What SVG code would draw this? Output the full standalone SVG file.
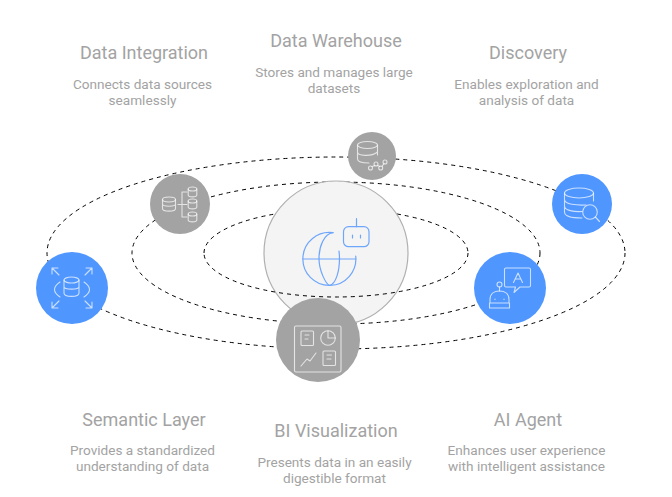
<svg xmlns="http://www.w3.org/2000/svg" width="672" height="497" viewBox="0 0 672 497">
<style>
.t{font-family:"Roboto","Liberation Sans",sans-serif;font-size:18px;fill:#a3a3a3;text-anchor:middle}
.d{font-family:"Roboto","Liberation Sans",sans-serif;font-size:13.6px;fill:#a3a3a3;text-anchor:middle}
.orb{fill:none;stroke:#000;stroke-width:1;stroke-dasharray:4 4}
.g{fill:#a3a3a3}
.b{fill:#4f96ff}
.i{fill:none;stroke:#fff;stroke-opacity:.7;stroke-width:1.1;stroke-linecap:round;stroke-linejoin:round}
.u{fill:none;stroke:#6ea6fb;stroke-width:1.2;stroke-linecap:round;stroke-linejoin:round}
</style>
<rect width="672" height="497" fill="#fff"/>
<g id="connectors">
<ellipse class="orb" cx="336" cy="253" rx="289" ry="96"/>
<ellipse class="orb" cx="336" cy="253" rx="204" ry="71"/>
<path class="orb" d="M204 253A132 44 0 0 1 468 253"/>
</g>
<g id="center">
<circle cx="336" cy="253" r="72" fill="#f4f4f4" stroke="#b0b0b0" stroke-width="1.2"/>
<path class="orb" d="M468 253A132 44 0 0 1 204 253"/>
<path class="u" d="M333 232.700A26.500 26.500 0 1 0 355.700 256"/>
<path class="u" d="M333 232.700C324 234 319 246 319 258.500C319 271 326 284 329.500 285.500C336 284 339.500 271 339.500 258.500Q339.500 256 339 251"/>
<path class="u" stroke-width="1.5" d="M303 259H355.700"/>
<rect class="u" x="343.500" y="226.700" width="25.500" height="20" rx="5"/>
<path class="u" d="M356.500 226.700V218.500M352.500 235V238M360.500 235V238"/>
</g>
<g id="data-integration">
<circle class="g" cx="180" cy="204" r="30"/>
<ellipse class="i" cx="169" cy="199.500" rx="6.500" ry="2.500"/><path class="i" d="M162.500 199.500V208.500C162.500 212 175.500 212 175.500 208.500V199.500M162.500 204C162.500 207 175.500 207 175.500 204"/>
<path class="i" d="M178 204.500H182M182 192V217M182 192H187M182 204.500H187M182 217H187"/>
<ellipse class="i" cx="192.500" cy="189" rx="4.300" ry="2"/><path class="i" d="M188.200 189V195C188.200 197.500 196.800 197.500 196.800 195V189"/>
<ellipse class="i" cx="192.500" cy="201" rx="4.300" ry="2"/><path class="i" d="M188.200 201V207C188.200 209.500 196.800 209.500 196.800 207V201"/>
<ellipse class="i" cx="192.500" cy="214" rx="4.300" ry="2"/><path class="i" d="M188.200 214V220C188.200 222.500 196.800 222.500 196.800 220V214"/>
</g>
<g id="data-warehouse">
<circle class="g" cx="372" cy="156" r="24"/>
<ellipse class="i" cx="367.500" cy="145" rx="10" ry="3.500"/><path class="i" d="M357.500 145V159C357.500 162 362 163 369 163M357.500 152C357.500 156 371 157 377.500 152M377.500 145V155"/>
<circle class="i" cx="370.500" cy="168" r="2"/><circle class="i" cx="376" cy="164" r="2"/><circle class="i" cx="380.700" cy="168" r="2"/><circle class="i" cx="385" cy="162" r="2"/>
<path class="i" d="M372 166.500L375 165.500M377.500 165.500L380 166.500M382 166.500L384 163.500"/>
</g>
<g id="discovery">
<circle class="b" cx="582" cy="204" r="30"/>
<ellipse class="i" cx="579" cy="193" rx="14.500" ry="5"/><path class="i" d="M564.500 193V212C564.500 216 572 218 582 218M564.500 199.500C564.500 204.500 577 205.500 586 205M564.500 206C564.500 210.500 574 212 582 211.500M593.500 193V201"/>
<circle class="i" cx="590" cy="212" r="7.300"/><path class="i" d="M595.300 217L599.500 221.500"/>
</g>
<g id="ai-agent">
<circle class="b" cx="510" cy="288" r="36"/>
<path class="i" d="M506 268H529Q530.500 268 530.500 269.500V285.500Q530.500 287 529 287H520L514 292.500L515.500 287H506Q504.500 287 504.500 285.500V269.500Q504.500 268 506 268Z"/>
<path class="i" d="M513.500 282.500L518 273L522.500 282.500M515 279H521"/>
<circle class="i" cx="499.500" cy="284.500" r="2.500"/><path class="i" d="M499.500 287V291"/>
<path class="i" d="M490 299.500C490 294 494 291 499.500 291C505 291 509 294 509 299.500V303H490ZM489.500 303H509.500V308H489.500Z"/>
<path class="i" d="M495 299V299.500M504 299V299.500"/>
</g>
<g id="bi-visualization">
<circle class="g" cx="318" cy="340" r="42"/>
<rect class="i" x="294.500" y="326" width="46.500" height="46" rx="1.500"/>
<rect class="i" x="301" y="331" width="12.500" height="14.500" rx="1"/><path class="i" d="M305 335H309M305 339H308"/>
<circle class="i" cx="328" cy="338" r="7.300"/><path class="i" d="M328 330.700V338H335.300"/>
<path class="i" d="M301 366L307 359L310 361L316 353"/>
<rect class="i" x="323" y="351" width="12.500" height="14.500" rx="1"/><path class="i" d="M327 355H331.500M327 359H331"/>
</g>
<g id="semantic-layer">
<circle class="b" cx="72" cy="288" r="36"/>
<ellipse class="i" cx="71.500" cy="280" rx="7.500" ry="3"/><path class="i" d="M64 280V293C64 297.500 79 297.500 79 293V280M64 286.500C64 290 79 290 79 286.500"/>
<path class="i" d="M60 282Q49 289.500 60 297M84 282Q95 289.500 84 297"/>
<path class="i" d="M52 268L59 275M52 268H58M52 268V274M92 268L85 275M92 268H86M92 268V274M52 308L59 301M52 308H58M52 308V302M92 308L85 301M92 308H86M92 308V302"/>
</g>
<g id="labels">
<text class="t" x="144" y="59">Data Integration</text>
<text class="d" x="142.500" y="89">Connects data sources</text>
<text class="d" x="142.500" y="105">seamlessly</text>
<text class="t" x="336" y="47">Data Warehouse</text>
<text class="d" x="334" y="77">Stores and manages large</text>
<text class="d" x="334" y="93">datasets</text>
<text class="t" x="528" y="59">Discovery</text>
<text class="d" x="526.500" y="89">Enables exploration and</text>
<text class="d" x="526.500" y="105">analysis of data</text>
<text class="t" x="144" y="426">Semantic Layer</text>
<text class="d" x="142.500" y="455">Provides a standardized</text>
<text class="d" x="142.500" y="471">understanding of data</text>
<text class="t" x="336" y="437">BI Visualization</text>
<text class="d" x="334.500" y="467">Presents data in an easily</text>
<text class="d" x="334.500" y="483">digestible format</text>
<text class="t" x="528" y="426">AI Agent</text>
<text class="d" x="526.500" y="455">Enhances user experience</text>
<text class="d" x="526.500" y="471">with intelligent assistance</text>
</g>
</svg>
